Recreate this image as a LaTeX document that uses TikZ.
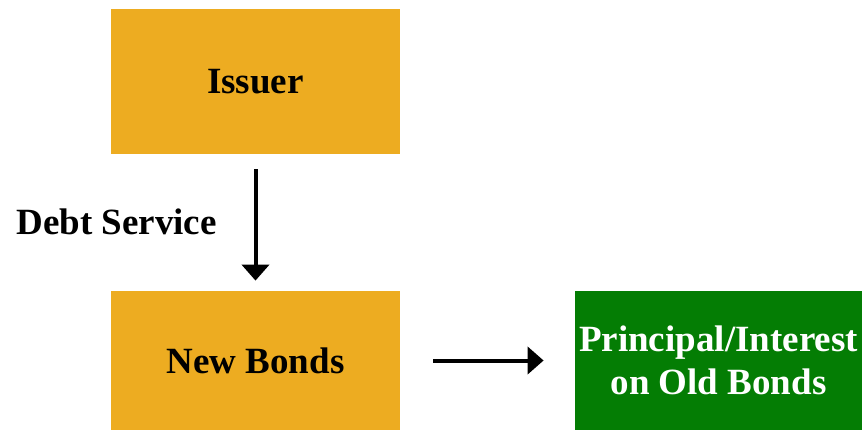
\documentclass[tikz,border=0pt]{standalone}
\usepackage{fontspec}
\setmainfont{Liberation Serif}
\usepackage{tikz}
\usetikzlibrary{positioning,arrows.meta}

\definecolor{issuergold}{RGB}{237,172,33}
\definecolor{oldgreen}{RGB}{4,125,4}

\tikzset{
	goldbox/.style={fill=issuergold, minimum width=144.5pt, minimum height=72.5pt, inner sep=0pt, font=\fontsize{18.5}{21.5}\selectfont\bfseries},
	greenbox/.style={fill=oldgreen, text=white, minimum width=143.5pt, minimum height=69.5pt, inner sep=0pt, align=center, font=\fontsize{18.5}{21.5}\selectfont\bfseries},
	flow/.style={line width=2pt, -{Triangle[width=13.5pt,length=8pt]}}
}

\begin{document}
\begin{tikzpicture}
	\useasboundingbox (0,0) rectangle (432pt,-215pt);
	%nodes
	\node (issuer)[goldbox] at (127.75pt,-40.75pt)                {Issuer};
	\node (newbonds)[goldbox, below of=issuer, node distance=139.5pt, minimum height=69.5pt] {New Bonds};
	\node (oldbonds)[greenbox, right of=newbonds, node distance=231.5pt] {Principal/Interest\\on Old Bonds};
	
	\node (debt) at (58.25pt,-111pt) {\fontsize{18.5}{21.5}\selectfont\bfseries Debt Service};
	
	%links
	\draw[flow, shorten <=7.5pt, shorten >=5pt] (issuer) -- (newbonds);
	\draw[flow, shorten <=16.5pt, shorten >=15.5pt] (newbonds) -- (oldbonds);
\end{tikzpicture}
\end{document}
